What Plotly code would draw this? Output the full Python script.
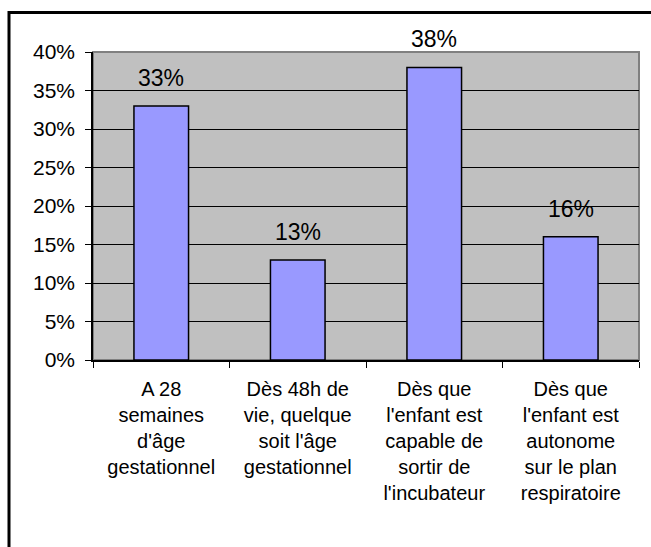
import plotly.graph_objects as go

categories = [
    "A 28<br>semaines<br>d'âge<br>gestationnel",
    "Dès 48h de<br>vie, quelque<br>soit l'âge<br>gestationnel",
    "Dès que<br>l'enfant est<br>capable de<br>sortir de<br>l'incubateur",
    "Dès que<br>l'enfant est<br>autonome<br>sur le plan<br>respiratoire",
]
values = [0.33, 0.13, 0.38, 0.16]
value_labels = ["33%", "13%", "38%", "16%"]
tick_vals = [0, 0.05, 0.10, 0.15, 0.20, 0.25, 0.30, 0.35, 0.40]
tick_text = ["0%", "5%", "10%", "15%", "20%", "25%", "30%", "35%", "40%"]

FONT = "Liberation Sans, Arial, sans-serif"
W, H = 651, 547
ML, MR, MT, MB = 93, 12, 52, 187
pw, ph = W - ML - MR, H - MT - MB

def px_x(p):
    return (p - ML) / pw

def px_y(p):
    return (H - MB - p) / ph

fig = go.Figure()
fig.add_trace(go.Bar(
    x=categories, y=values, width=0.4,
    marker=dict(color="#9999FF", line=dict(color="black", width=1.5)),
    hoverinfo="skip",
))

for c, v, t in zip(categories, values, value_labels):
    fig.add_annotation(x=c, y=v, text=t, showarrow=False, yanchor="bottom",
                       yshift=13, font=dict(family=FONT, size=23, color="black"))

# outer chart frame (extends beyond the cropped image)
fig.add_shape(type="rect", xref="paper", yref="paper",
              x0=px_x(9), x1=px_x(720), y0=px_y(620), y1=px_y(12.5),
              line=dict(color="black", width=3), layer="above")
# plot area border (grey)
fig.add_shape(type="rect", xref="paper", yref="paper",
              x0=0, x1=1, y0=0, y1=1,
              line=dict(color="#808080", width=2), layer="below")

fig.update_layout(
    width=W, height=H,
    margin=dict(l=ML, r=MR, t=MT, b=MB, pad=0),
    paper_bgcolor="white", plot_bgcolor="#C0C0C0",
    showlegend=False, bargap=0.6,
    font=dict(family=FONT, size=20, color="black"),
)
fig.update_xaxes(
    showline=True, linecolor="black", linewidth=1.5,
    ticks="outside", ticklen=6, tickcolor="black", tickson="boundaries",
    tickfont=dict(family=FONT, size=20, color="black"),
    showgrid=False, ticklabelstandoff=10,
)
fig.update_yaxes(
    range=[0, 0.40], tickvals=tick_vals, ticktext=tick_text,
    showline=True, linecolor="black", linewidth=1.5,
    ticks="outside", ticklen=6, tickcolor="black",
    showgrid=True, gridcolor="black", gridwidth=1,
    zeroline=False,
    tickfont=dict(family=FONT, size=21, color="black"),
    ticklabelstandoff=6,
)

fig.write_html("out.html", config={"displayModeBar": False},
               post_script="document.body.style.margin='0';")
